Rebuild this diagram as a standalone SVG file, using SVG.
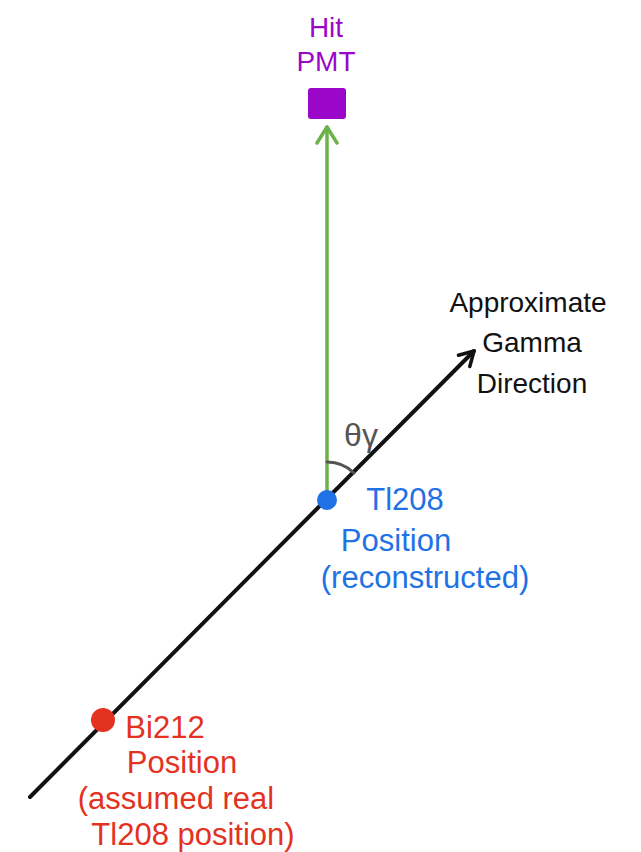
<svg xmlns="http://www.w3.org/2000/svg" width="641" height="852" viewBox="0 0 641 852">
<defs>
<style>
text{font-family:"Liberation Sans","DejaVu Sans",sans-serif;text-anchor:middle}
.purple{fill:#9a07c9;font-size:28px}
.black{fill:#111;font-size:28px}
.blue{fill:#1f72e6;font-size:31px}
.red{fill:#e3321f;font-size:31px}
.gray{fill:#555;font-size:32px}
</style>
<marker id="ahB" viewBox="0 0 20 20" refX="16" refY="10" markerWidth="20" markerHeight="20" markerUnits="userSpaceOnUse" orient="auto"><path d="M2,2 L16,10 L2,18" fill="none" stroke="#111" stroke-width="3.5" stroke-linecap="round" stroke-linejoin="round"/></marker>
<marker id="ahG" viewBox="0 0 24 24" refX="20" refY="12" markerWidth="24" markerHeight="24" markerUnits="userSpaceOnUse" orient="auto"><path d="M4,2 L20,12 L4,22" fill="none" stroke="#6cb24a" stroke-width="3.5" stroke-linecap="round" stroke-linejoin="round"/></marker>
</defs>
<rect width="641" height="852" fill="#fff"/>
<g id="connectors">
<line x1="30" y1="797" x2="474" y2="351" stroke="#111" stroke-width="4" stroke-linecap="round" marker-end="url(#ahB)"/>
<line x1="327" y1="500" x2="327" y2="127" stroke="#6cb24a" stroke-width="3.5" stroke-linecap="round" marker-end="url(#ahG)"/>
<path d="M327,462 A38,38 0 0 1 354,473" fill="none" stroke="#555" stroke-width="3" stroke-linecap="round"/>
</g>
<g id="pmt">
<rect x="308" y="88" width="38" height="31" rx="3" fill="#9a07c9"/>
<text class="purple" x="326" y="37">Hit</text>
<text class="purple" x="326" y="71">PMT</text>
</g>
<g id="gamma-label">
<text class="black" x="528" y="312">Approximate</text>
<text class="black" x="532" y="352">Gamma</text>
<text class="black" x="532" y="393">Direction</text>
</g>
<g id="theta">
<text class="gray" x="361" y="446">θγ</text>
</g>
<g id="tl208">
<circle cx="327" cy="500" r="10" fill="#1f72e6"/>
<text class="blue" x="405" y="510">Tl208</text>
<text class="blue" x="396" y="551">Position</text>
<text class="blue" x="425" y="588">(reconstructed)</text>
</g>
<g id="bi212">
<circle cx="103" cy="720" r="12" fill="#e3321f"/>
<text class="red" x="165" y="738">Bi212</text>
<text class="red" x="182" y="773">Position</text>
<text class="red" x="176" y="809">(assumed real</text>
<text class="red" x="193" y="845">Tl208 position)</text>
</g>
</svg>
